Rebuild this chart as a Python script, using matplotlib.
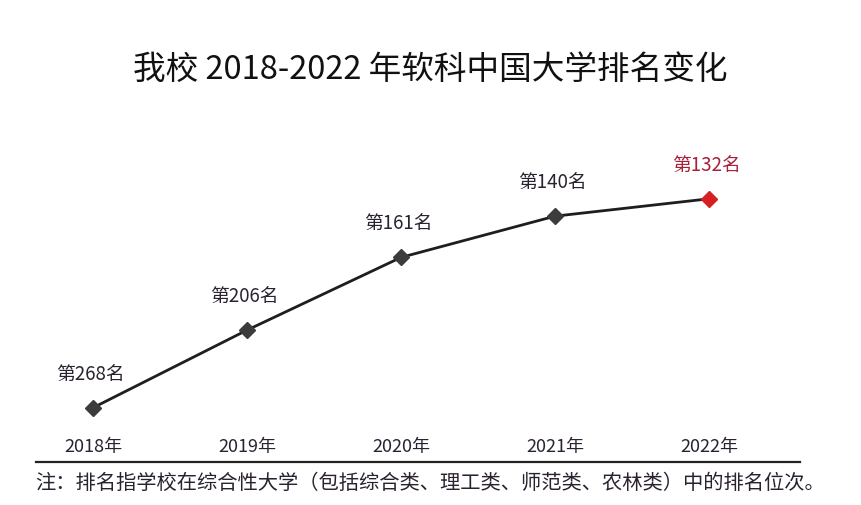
import numpy as np
import matplotlib
matplotlib.use("Agg")
import matplotlib.pyplot as plt

plt.rcParams['font.family'] = ['Noto Sans CJK SC', 'DejaVu Sans']

# data
years = ['2018年', '2019年', '2020年', '2021年', '2022年']
ranks = [268, 206, 161, 140, 132]
title = '我校 2018-2022 年软科中国大学排名变化'
note = '注：排名指学校在综合性大学（包括综合类、理工类、师范类、农林类）中的排名位次。'

txt_col = '#2a2230'
line_col = '#1e1e1e'
dot_col = '#3c3c3c'
red = '#d61f22'
red_txt = '#a8203a'

fig = plt.figure(figsize=(8.62, 5.06), dpi=100)
fig.patch.set_facecolor('white')

# axes placed in pixels: x 16..786, y 150..430 (from top)
ax = fig.add_axes([16/862, 1-430/506, 770/862, 280/506])
x = np.arange(len(years))

ax.plot(x, ranks, color=line_col, lw=2.0, zorder=2)
ax.plot(x[:-1], ranks[:-1], 'D', color=dot_col, ms=8.5, zorder=3)
ax.plot(x[-1:], ranks[-1:], 'D', color=red, ms=8.5, zorder=3)

for i, r in enumerate(ranks):
    c = red_txt if i == len(ranks)-1 else txt_col
    ax.annotate('第%d名' % r, (x[i], r), xytext=(-2, 25), textcoords='offset points',
                ha='center', va='center', fontsize=13.5, color=c)

ax.set_yscale('log')
ax.set_ylim(288, 111.5)
ax.set_xlim(-0.5, 4.5)
ax.set_xticks(x)
ax.set_xticklabels(years, fontsize=13, color=txt_col)
ax.tick_params(axis='x', length=0, pad=6)
ax.set_yticks([])
ax.yaxis.set_minor_locator(matplotlib.ticker.NullLocator())
for s in ax.spines.values():
    s.set_visible(False)
ax.patch.set_alpha(0)

fig.text(430/862, 1-70/506, title, ha='center', va='center', fontsize=23.5, color='#111111')

# rule above the note
fig.add_artist(plt.Line2D([36/862, 800/862], [1-463/506, 1-463/506], color='#222222', lw=1.6))
fig.text(35/862, 1-483/506, note, ha='left', va='center', fontsize=14.6, color=txt_col)

fig.savefig('out.png', dpi=100, facecolor='white')
